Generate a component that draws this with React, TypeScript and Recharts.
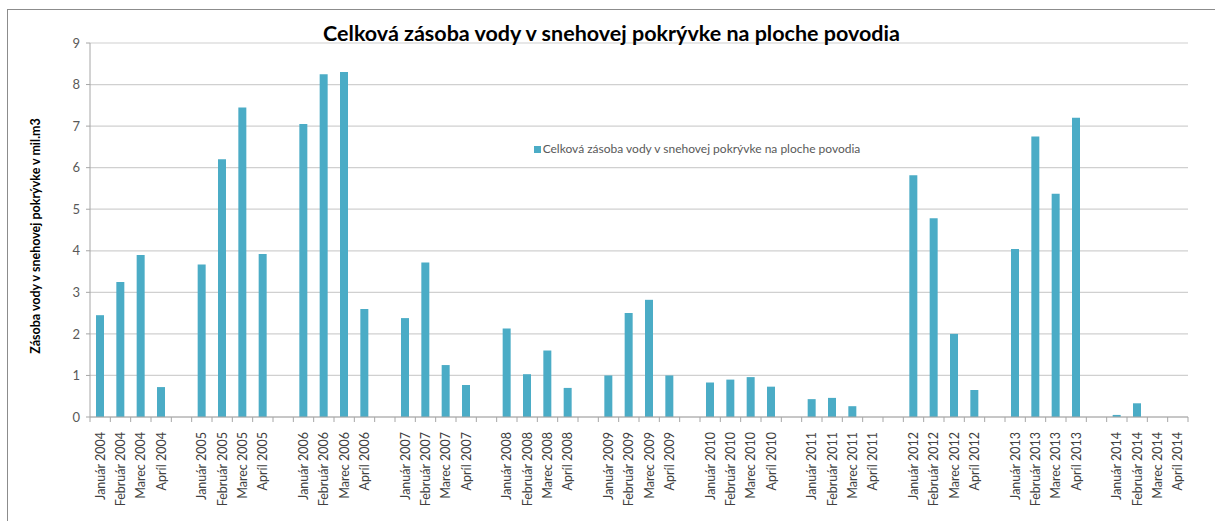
import { BarChart, Bar, XAxis, YAxis, CartesianGrid, Legend } from "recharts";

const YEARS = ["2004", "2005", "2006", "2007", "2008", "2009", "2010", "2011", "2012", "2013", "2014"];
const MONTHS = ["Január", "Február", "Marec", "Apríl"];

// values per year: Január, Február, Marec, Apríl (mil. m3)
const VALUES = [
  [2.45, 3.25, 3.9, 0.72],
  [3.67, 6.2, 7.45, 3.92],
  [7.05, 8.25, 8.3, 2.6],
  [2.38, 3.72, 1.25, 0.77],
  [2.13, 1.03, 1.6, 0.7],
  [1.0, 2.5, 2.82, 1.0],
  [0.83, 0.9, 0.96, 0.73],
  [0.43, 0.46, 0.26, 0],
  [5.82, 4.78, 2.0, 0.65],
  [4.04, 6.75, 5.37, 7.2],
  [0.05, 0.33, 0, 0],
];

const Y_TICKS = [0, 1, 2, 3, 4, 5, 6, 7, 8, 9];

const SERIES = "Celková zásoba vody v snehovej pokrývke na ploche povodia";

// one empty slot between the years
const data: { name: string; value: number | null; key: string }[] = [];
YEARS.forEach((year, i) => {
  MONTHS.forEach((m, j) => {
    data.push({ key: `${year}-${j}`, name: `${m} ${year}`, value: VALUES[i][j] });
  });
  if (i < YEARS.length - 1) data.push({ key: `gap-${year}`, name: "", value: null });
});

const W = 1215;
const H = 521;
const PLOT_LEFT = 90;
const PLOT_RIGHT = 1188;
const BAND = (PLOT_RIGHT - PLOT_LEFT) / data.length;
const FONT = "Lato, 'Open Sans', sans-serif";

const XTick = (props: any) => {
  const { x, y, payload, index } = props;
  const idx = payload.index ?? index;
  const label = data[idx]?.name ?? "";
  const last = idx === data.length - 1;
  return (
    <g>
      <line x1={x - BAND / 2} y1={y - 8} x2={x - BAND / 2} y2={y - 3} stroke="#a6a6a6" />
      {last && <line x1={x + BAND / 2} y1={y - 8} x2={x + BAND / 2} y2={y - 3} stroke="#a6a6a6" />}
      <text
        x={x}
        y={y + 7}
        transform={`rotate(-90 ${x} ${y + 7})`}
        textAnchor="end"
        dominantBaseline="central"
        fontSize={12.5}
        fill="#404040"
        fontFamily={FONT}
      >
        {label}
      </text>
    </g>
  );
};

export default function App() {
  return (
    <div style={{ position: "absolute", left: 0, top: 0, width: W, height: H, overflow: "hidden", background: "#fff" }}>
      <div style={{ position: "absolute", left: 7, top: 9, width: W, height: H, border: "1px solid #8c8c8c", boxSizing: "border-box" }} />
      <BarChart
        width={W}
        height={H}
        data={data}
        margin={{ top: 43, right: W - PLOT_RIGHT, left: PLOT_LEFT - 50, bottom: 14 }}
        barSize={8}
      >
        <CartesianGrid vertical={false} stroke="#d0d0d0" strokeWidth={1.2} />
        <XAxis
          dataKey="key"
          interval={0}
          height={90}
          axisLine={{ stroke: "#a6a6a6" }}
          tickLine={false}
          tick={<XTick />}
        />
        <YAxis
          domain={[0, 9]}
          ticks={Y_TICKS}
          width={50}
          axisLine={{ stroke: "#a6a6a6" }}
          tickLine={{ stroke: "#a6a6a6" }}
          tickSize={4}
          tickMargin={6}
          tick={{ fontSize: 13, fill: "#595959", fontFamily: FONT }}
        />
        <Legend
          layout="horizontal"
          verticalAlign="middle"
          align="center"
          iconType="square"
          iconSize={7}
          wrapperStyle={{ top: 141, left: 502, width: 400, fontSize: 12, fontFamily: FONT }}
          formatter={(v: string) => <span style={{ color: "#595959", marginLeft: -2 }}>{v}</span>}
        />
        <Bar dataKey="value" name={SERIES} fill="#4BACC6" isAnimationActive={false} />
      </BarChart>
      <div
        style={{
          position: "absolute",
          left: 0,
          width: W,
          top: 20,
          textAlign: "center",
          fontFamily: FONT,
          fontWeight: 700,
          fontSize: 21.5,
          color: "#000",
          paddingLeft: 8,
          boxSizing: "border-box",
        }}
      >
        Celková zásoba vody v snehovej pokrývke na ploche povodia
      </div>
      <div
        style={{
          position: "absolute",
          left: 35,
          top: 236,
          transform: "translate(-50%, -50%) rotate(-90deg)",
          whiteSpace: "nowrap",
          fontFamily: FONT,
          fontWeight: 700,
          fontSize: 12.5,
          color: "#000",
        }}
      >
        Zásoba vody v snehovej pokrývke v mil.m3
      </div>
    </div>
  );
}
